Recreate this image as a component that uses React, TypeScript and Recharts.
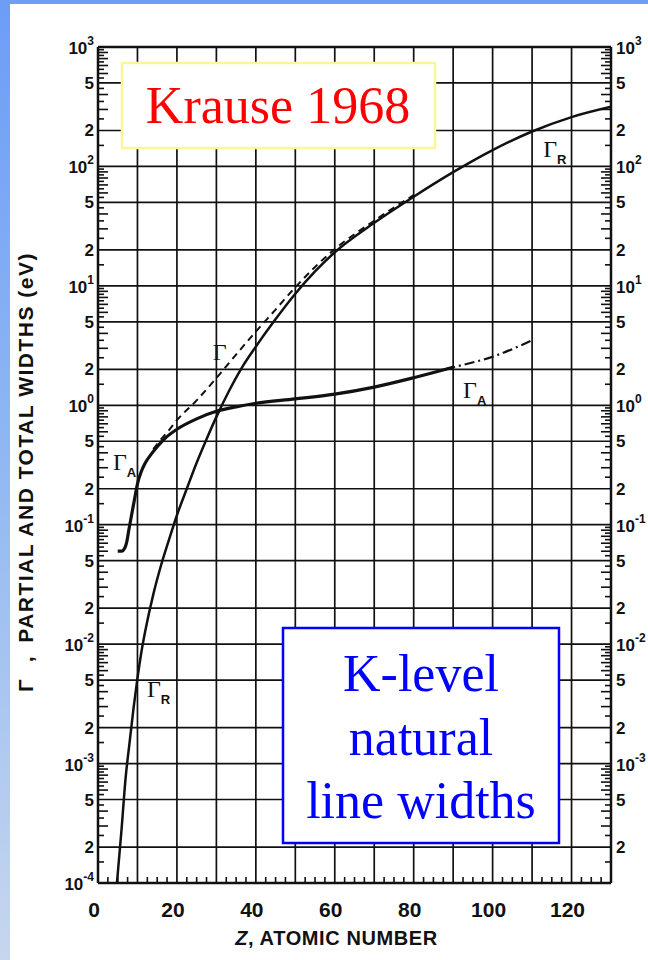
import React from 'react'
import { LineChart, Line, XAxis, YAxis, CartesianGrid, ReferenceDot, Label } from 'recharts'

// Z values and K-level radiative width Γ_R (eV)
const zRad = [4.8, 6, 7, 8, 9, 10, 11, 12, 14, 16, 18, 20, 22.5, 25, 27.5, 30, 33, 36.5, 40, 44.5, 50, 55, 60, 70, 80, 90, 100, 110, 120, 130]
const gammaRad = [1.0e-4, 2.9e-4, 7.6e-4, 1.5e-3, 2.9e-3, 5.2e-3, 8.6e-3, 1.3e-2, 2.6e-2, 4.6e-2, 7.5e-2, 0.12, 0.2, 0.33, 0.52, 0.8, 1.28, 2.08, 3.1, 5.0, 8.6, 13.2, 19.1, 33.7, 55.8, 89.5, 137, 196, 259, 316]

// Auger width Γ_A (eV), solid part
const zAug = [5, 6, 6.8, 7.3, 7.8, 8.5, 9.2, 10, 11, 12, 13.5, 15, 17, 20, 25, 30, 35, 40, 50, 60, 70, 80, 90]
const gammaAug = [0.06, 0.06, 0.064, 0.072, 0.09, 0.12, 0.16, 0.22, 0.28, 0.33, 0.39, 0.45, 0.53, 0.63, 0.77, 0.89, 0.97, 1.04, 1.13, 1.24, 1.42, 1.7, 2.08]

// Γ_A extrapolation (dash-dot)
const zAugExt = [88, 90, 100, 110]
const gammaAugExt = [2.0, 2.08, 2.55, 3.5]

// total width Γ = Γ_R + Γ_A (dashed)
const zTotal = [14, 16, 18, 20, 25, 30, 35, 40, 45, 50, 55, 60, 70, 80]
const gammaTotal = [0.43, 0.52, 0.62, 0.75, 1.1, 1.69, 2.66, 4.14, 6.33, 9.73, 14.4, 20.3, 35.1, 57.5]

// axis ticks
const xTicks = [0, 10, 20, 30, 40, 50, 60, 70, 80, 90, 100, 110, 120, 130]
const xBottomLabels = [0, 20, 40, 60, 80, 100, 120]
const xTopLabels = [20, 40, 60, 80, 100, 120]
const yTicks = [
  1e-4, 2e-4, 5e-4, 1e-3, 2e-3, 5e-3, 1e-2, 2e-2, 5e-2, 1e-1, 2e-1, 5e-1,
  1, 2, 5, 10, 20, 50, 100, 200, 500, 1000,
]
const yDecades = [-4, -3, -2, -1, 0, 1, 2]
const yMinorMant = [3, 4, 6, 7, 8, 9]
const yHalfMant = [1.5, 2.5, 3.5, 4.5, 5.5, 6.5, 7.5, 8.5, 9.5]

// curve labels: Γ with subscript, anchored at (Z, width)
const gammaMarks = [
  { z: 12.4, w: 3.6e-3, sub: 'R' },
  { z: 3.8, w: 0.286, sub: 'A' },
  { z: 29.1, w: 2.39, sub: '' },
  { z: 92.5, w: 1.15, sub: 'A' },
  { z: 112.8, w: 120, sub: 'R' },
]

const rows = (zs: number[], vs: number[]) => zs.map((z, i) => ({ z, v: vs[i] }))
const radData = rows(zRad, gammaRad)
const augData = rows(zAug, gammaAug)
const augExtData = rows(zAugExt, gammaAugExt)
const totalData = rows(zTotal, gammaTotal)

const yMinor = yDecades.flatMap((d) => yMinorMant.map((m) => m * Math.pow(10, d)))
const yHalf = yDecades.flatMap((d) => yHalfMant.map((m) => m * Math.pow(10, d)))
const xMinor = xTicks.slice(0, -1).flatMap((t) => [t + 2.5, t + 5, t + 7.5])
const yAll = [...yTicks, ...yMinor, ...yHalf].sort((a, b) => a - b)
const xAll = [...xTicks, ...xMinor].sort((a, b) => a - b)

const SANS = '"Liberation Sans", Arial, sans-serif'
const SERIF = '"Liberation Serif", "Times New Roman", serif'
const INK = '#111'
const Y_DOMAIN: [number, number] = [1e-4, 1e3]
const X_DOMAIN: [number, number] = [0, 130]

function splitLog(v: number) {
  const e = Math.floor(Math.log10(v) + 1e-9)
  const m = Math.round(v / Math.pow(10, e))
  return { e, m }
}

// y axis tick: label for 1-2-5 values, inward tick mark for the rest
function YTick({ x, y, payload, side }: any) {
  const v = payload.value
  const dir = side === 'left' ? 1 : -1
  if (!yTicks.includes(v)) {
    const len = yMinor.includes(v) ? 10 : 6
    return <line x1={x} x2={x + dir * len} y1={y} y2={y} stroke={INK} strokeWidth={1.6} />
  }
  if (side === 'right' && v < 1.5e-4) return null
  const { e, m } = splitLog(v)
  const anchor = side === 'left' ? 'end' : 'start'
  const lx = x - dir * (side === 'left' ? 4 : 5)
  if (m === 1) {
    return (
      <text x={lx} y={y + 7} textAnchor={anchor} fontFamily={SANS} fontWeight="bold" fontSize={17} fill={INK}>
        10
        <tspan dy={-9} fontSize={12}>{e}</tspan>
      </text>
    )
  }
  return (
    <text x={lx} y={y + 6} textAnchor={anchor} fontFamily={SANS} fontWeight="bold" fontSize={17} fill={INK}>
      {m}
    </text>
  )
}

// x axis tick: number label on major ticks, short inward mark on minor ones
function XTick({ x, y, payload, side, labels, size, dx }: any) {
  const v = payload.value
  const dir = side === 'bottom' ? -1 : 1
  if (!xTicks.includes(v)) {
    return <line x1={x} x2={x} y1={y} y2={y + dir * 6} stroke={INK} strokeWidth={1.6} />
  }
  if (!labels.includes(v)) return null
  const ly = side === 'bottom' ? y + 34 : y - 12
  return (
    <text x={x + dx} y={ly} textAnchor="middle" fontFamily={SANS} fontWeight="bold" fontSize={size} fill={INK}>
      {v}
    </text>
  )
}

function GammaMark({ cx, cy, sub }: { cx: number; cy: number; sub: string }) {
  return (
    <text x={cx} y={cy} fontFamily={SERIF} fontSize={24} fill={INK}>
      Γ
      {sub && (
        <tspan dy={7} fontFamily={SANS} fontWeight="bold" fontSize={13}>
          {sub}
        </tspan>
      )}
    </text>
  )
}

function YTitle({ viewBox }: any) {
  const cx = viewBox.x - 13
  const cy = viewBox.y + viewBox.height / 2 + 7
  return (
    <text
      x={cx}
      y={cy}
      transform={`rotate(-90 ${cx} ${cy})`}
      textAnchor="middle"
      dominantBaseline="central"
      fontFamily={SANS}
      fontWeight="bold"
      fontSize={21}
      letterSpacing={1.5}
      fill={INK}
    >
      Γ<tspan dx={18}>,</tspan>
      <tspan dx={12}>PARTIAL AND TOTAL WIDTHS  (eV)</tspan>
    </text>
  )
}

function XTitle({ viewBox }: any) {
  const cx = viewBox.x + viewBox.width / 2 - 18
  return (
    <text
      x={cx}
      y={viewBox.y + 62}
      textAnchor="middle"
      fontFamily={SANS}
      fontWeight="bold"
      fontSize={20}
      letterSpacing={0.6}
      fill={INK}
    >
      <tspan fontStyle="italic">Z</tspan>, ATOMIC NUMBER
    </text>
  )
}

const frame = { stroke: INK, strokeWidth: 2.5 }

export default function App() {
  return (
    <div style={{ position: 'absolute', left: 0, top: 0, width: 648, height: 960, background: '#fff', overflow: 'hidden' }}>
      <div style={{ position: 'absolute', left: 0, top: 0, width: 648, height: 4, background: '#6f9ff7' }} />
      <div
        style={{
          position: 'absolute',
          left: 0,
          top: 0,
          width: 10,
          height: 960,
          background: 'linear-gradient(#6c9df7, #8db6f3 45%, #c7d6ee)',
        }}
      />
      <LineChart width={648} height={960} margin={{ top: 17, right: 0, bottom: 37, left: 38 }}>
        {/* grid only on the 10-step Z values and the 1-2-5 widths */}
        <CartesianGrid verticalValues={xTicks} horizontalValues={yTicks} stroke={INK} strokeWidth={1.7} />
        <XAxis
          dataKey="z"
          type="number"
          domain={X_DOMAIN}
          allowDataOverflow
          ticks={xAll}
          interval={0}
          height={40}
          tickSize={0}
          tickMargin={0}
          axisLine={frame}
          tickLine={false}
          tick={<XTick side="bottom" labels={xBottomLabels} size={21} dx={-4} />}
        >
          <Label content={<XTitle />} />
        </XAxis>
        <XAxis
          xAxisId="top"
          orientation="top"
          type="number"
          domain={X_DOMAIN}
          allowDataOverflow
          ticks={xAll}
          interval={0}
          height={30}
          tickSize={0}
          tickMargin={0}
          axisLine={frame}
          tickLine={false}
          tick={<XTick side="top" labels={xTopLabels} size={19} dx={0} />}
        />
        <YAxis
          scale="log"
          type="number"
          domain={Y_DOMAIN}
          allowDataOverflow
          ticks={yAll}
          interval={0}
          width={60}
          tickSize={0}
          tickMargin={0}
          axisLine={frame}
          tickLine={false}
          tick={<YTick side="left" />}
        >
          <Label content={<YTitle />} />
        </YAxis>
        <YAxis
          yAxisId="right"
          orientation="right"
          scale="log"
          type="number"
          domain={Y_DOMAIN}
          allowDataOverflow
          ticks={yAll}
          interval={0}
          width={37}
          tickSize={0}
          tickMargin={0}
          axisLine={frame}
          tickLine={false}
          tick={<YTick side="right" />}
        />
        <Line data={totalData} dataKey="v" type="monotone" stroke={INK} strokeWidth={2} strokeDasharray="7 5" dot={false} activeDot={false} isAnimationActive={false} />
        <Line data={augExtData} dataKey="v" type="monotone" stroke={INK} strokeWidth={2.2} strokeDasharray="10 4 2 4" dot={false} activeDot={false} isAnimationActive={false} />
        <Line data={augData} dataKey="v" type="monotone" stroke={INK} strokeWidth={3.2} dot={false} activeDot={false} isAnimationActive={false} />
        <Line data={radData} dataKey="v" type="monotone" stroke={INK} strokeWidth={2.5} dot={false} activeDot={false} isAnimationActive={false} />
        {gammaMarks.map((g, i) => (
          <ReferenceDot
            key={i}
            x={g.z}
            y={g.w}
            r={0}
            ifOverflow="visible"
            shape={(p: any) => <GammaMark cx={p.cx} cy={p.cy} sub={g.sub} />}
          />
        ))}
      </LineChart>
      <svg width={648} height={960} style={{ position: 'absolute', left: 0, top: 0, pointerEvents: 'none' }}>
        <rect x={122} y={63} width={313} height={85} fill="#fff" stroke="#fbf795" strokeWidth={2.5} />
        <text x={278} y={123} textAnchor="middle" fontFamily={SERIF} fontSize={52} fill="#ff0000">
          Krause 1968
        </text>
        <rect x={283} y={628} width={276} height={215} fill="#fff" stroke="#0000ff" strokeWidth={2.5} />
        <g fontFamily={SERIF} fontSize={52} fill="#0000ff" textAnchor="middle">
          <text x={421} y={691}>K-level</text>
          <text x={421} y={755}>natural</text>
          <text x={421} y={818}>line widths</text>
        </g>
      </svg>
    </div>
  )
}
